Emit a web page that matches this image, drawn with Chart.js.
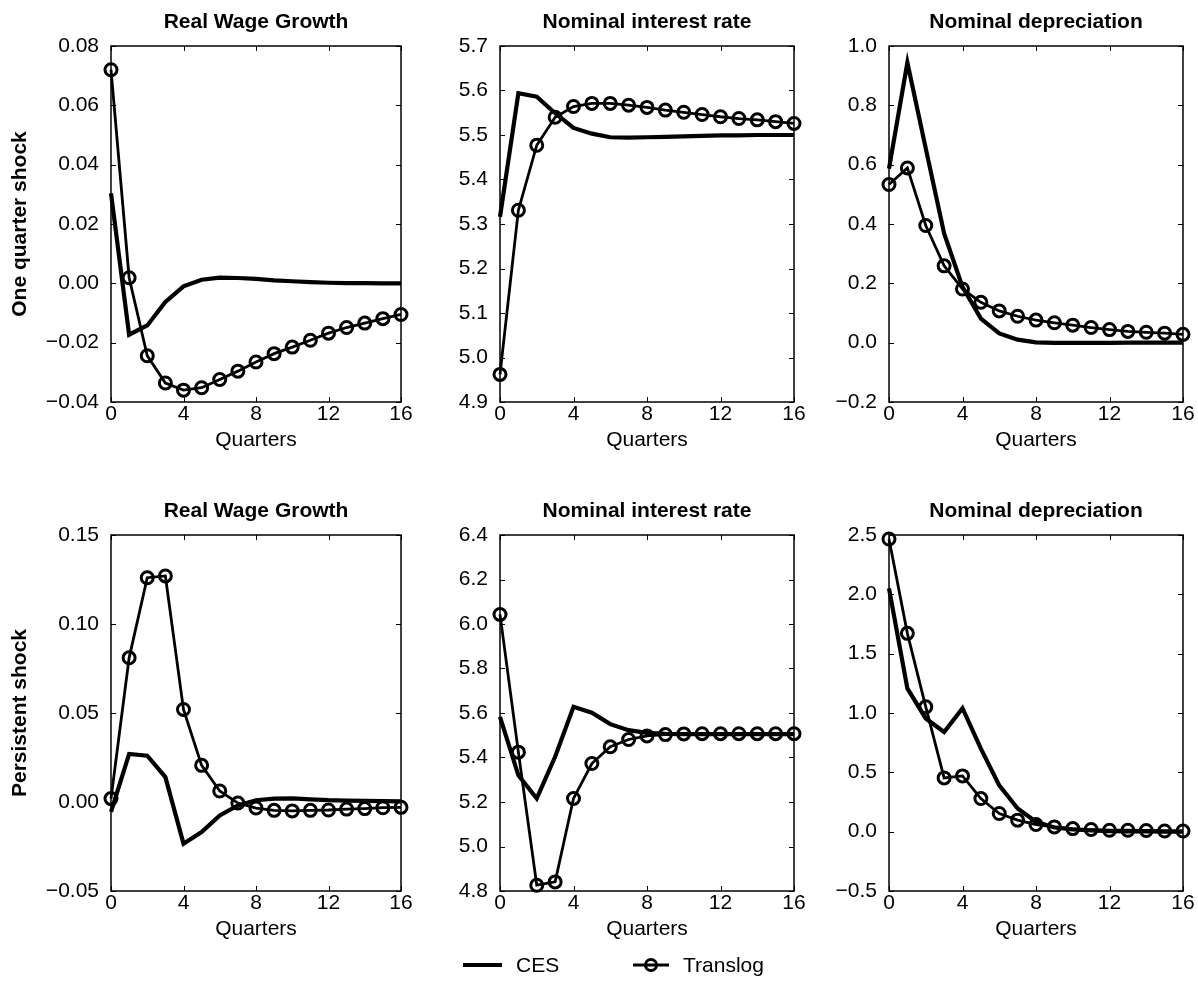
<!DOCTYPE html>
<html>
<head>
<meta charset="utf-8">
<script src="https://cdn.jsdelivr.net/npm/chart.js@4.4.1/dist/chart.umd.min.js"></script>
<style>
body { margin: 0; background: #fff; width: 1198px; height: 993px; position: relative; overflow: hidden; font-family: "Liberation Sans", Arial, sans-serif; }
canvas.panel { position: absolute; }
.leg { position: absolute; top: 953px; height: 24px; line-height: 24px; font-size: 21px; color: #000; }
.leg canvas { position: absolute; left: 0; top: 0; }
.leg span { position: absolute; white-space: nowrap; }
</style>
</head>
<body>
<canvas id="c1" class="panel" width="415" height="465" style="left:0px;top:0px"></canvas>
<canvas id="c2" class="panel" width="388" height="465" style="left:420px;top:0px"></canvas>
<canvas id="c3" class="panel" width="388" height="465" style="left:809px;top:0px"></canvas>
<canvas id="c4" class="panel" width="415" height="465" style="left:0px;top:489px"></canvas>
<canvas id="c5" class="panel" width="388" height="465" style="left:420px;top:489px"></canvas>
<canvas id="c6" class="panel" width="388" height="465" style="left:809px;top:489px"></canvas>
<div id="legCES" class="leg" style="left:463px"></div>
<div id="legTranslog" class="leg" style="left:633px"></div>
<script>
var quarters = [0, 1, 2, 3, 4, 5, 6, 7, 8, 9, 10, 11, 12, 13, 14, 15, 16];
var seriesNames = ['CES', 'Translog'];

// one quarter shock
var wageOneCES = [0.0304, -0.0173, -0.0142, -0.0063, -0.0010, 0.0012, 0.0019, 0.0018, 0.0015, 0.0010, 0.0007, 0.0004, 0.0002, 0.0001, 0.0001, 0.0000, 0.0000];
var wageOneTranslog = [0.0720, 0.0019, -0.0244, -0.0336, -0.0360, -0.0352, -0.0324, -0.0296, -0.0265, -0.0237, -0.0215, -0.0192, -0.0168, -0.0149, -0.0134, -0.0119, -0.0105];
var rateOneCES = [5.316, 5.594, 5.586, 5.549, 5.516, 5.503, 5.495, 5.494, 5.495, 5.496, 5.497, 5.498, 5.499, 5.499, 5.500, 5.500, 5.500];
var rateOneTranslog = [4.962, 5.331, 5.477, 5.540, 5.564, 5.571, 5.571, 5.567, 5.562, 5.556, 5.551, 5.546, 5.541, 5.537, 5.534, 5.530, 5.526];
var deprOneCES = [0.587, 0.944, 0.655, 0.368, 0.188, 0.081, 0.031, 0.010, 0.001, -0.001, -0.001, -0.001, -0.001, 0.000, 0.000, 0.000, 0.000];
var deprOneTranslog = [0.533, 0.589, 0.395, 0.259, 0.181, 0.136, 0.107, 0.089, 0.076, 0.067, 0.059, 0.051, 0.044, 0.038, 0.035, 0.032, 0.028];

// persistent shock
var wagePerCES = [-0.0056, 0.0270, 0.0260, 0.0140, -0.0234, -0.0169, -0.0075, -0.0019, 0.0010, 0.0019, 0.0020, 0.0015, 0.0010, 0.0008, 0.0006, 0.0005, 0.0004];
var wagePerTranslog = [0.0019, 0.0810, 0.1260, 0.1270, 0.0520, 0.0206, 0.0062, -0.0006, -0.0034, -0.0047, -0.0050, -0.0047, -0.0045, -0.0040, -0.0037, -0.0032, -0.0030];
var ratePerCES = [5.583, 5.320, 5.216, 5.403, 5.628, 5.601, 5.550, 5.523, 5.511, 5.506, 5.505, 5.505, 5.505, 5.505, 5.505, 5.505, 5.505];
var ratePerTranslog = [6.043, 5.424, 4.826, 4.841, 5.216, 5.373, 5.448, 5.481, 5.497, 5.503, 5.506, 5.507, 5.507, 5.507, 5.507, 5.507, 5.507];
var deprPerCES = [2.050, 1.207, 0.954, 0.840, 1.040, 0.700, 0.390, 0.195, 0.083, 0.035, 0.018, 0.010, 0.005, 0.003, 0.002, 0.001, 0.000];
var deprPerTranslog = [2.466, 1.671, 1.052, 0.453, 0.470, 0.279, 0.153, 0.097, 0.060, 0.040, 0.026, 0.018, 0.012, 0.012, 0.010, 0.006, 0.006];

var xTicks = [0, 4, 8, 12, 16];

var panels = [
    { id: 'c1', title: 'Real Wage Growth', ylabel: 'One quarter shock', ces: wageOneCES, translog: wageOneTranslog, min: -0.04, max: 0.08, step: 0.02, dec: 2, yw: 111 },
    { id: 'c2', title: 'Nominal interest rate', ylabel: '', ces: rateOneCES, translog: rateOneTranslog, min: 4.9, max: 5.7, step: 0.1, dec: 1, yw: 80 },
    { id: 'c3', title: 'Nominal depreciation', ylabel: '', ces: deprOneCES, translog: deprOneTranslog, min: -0.2, max: 1.0, step: 0.2, dec: 1, yw: 80 },
    { id: 'c4', title: 'Real Wage Growth', ylabel: 'Persistent shock', ces: wagePerCES, translog: wagePerTranslog, min: -0.05, max: 0.15, step: 0.05, dec: 2, yw: 111 },
    { id: 'c5', title: 'Nominal interest rate', ylabel: '', ces: ratePerCES, translog: ratePerTranslog, min: 4.8, max: 6.4, step: 0.2, dec: 1, yw: 80 },
    { id: 'c6', title: 'Nominal depreciation', ylabel: '', ces: deprPerCES, translog: deprPerTranslog, min: -0.5, max: 2.5, step: 0.5, dec: 1, yw: 80 }
];

var FONT = '"Liberation Sans", Arial, sans-serif';

// box round the plot with inward ticks on all four sides
var framePlugin = {
    id: 'frame',
    beforeDatasetsDraw: function(chart) {
        var a = chart.chartArea, ctx = chart.ctx, L = 5;
        var sx = chart.scales.x, sy = chart.scales.y;
        ctx.save();
        ctx.strokeStyle = '#000';
        ctx.lineWidth = 1;
        ctx.beginPath();
        sx.ticks.forEach(function(t) {
            var px = Math.round(sx.getPixelForValue(t.value)) + 0.5;
            ctx.moveTo(px, a.bottom); ctx.lineTo(px, a.bottom - L);
            ctx.moveTo(px, a.top); ctx.lineTo(px, a.top + L);
        });
        sy.ticks.forEach(function(t) {
            var py = Math.round(sy.getPixelForValue(t.value)) + 0.5;
            ctx.moveTo(a.left, py); ctx.lineTo(a.left + L, py);
            ctx.moveTo(a.right, py); ctx.lineTo(a.right - L, py);
        });
        ctx.stroke();
        ctx.lineWidth = 1.5;
        ctx.strokeRect(a.left, a.top, a.right - a.left, a.bottom - a.top);
        ctx.restore();
    }
};

function points(arr) {
    return quarters.map(function(q, i) { return { x: q, y: arr[i] }; });
}

function makeChart(p) {
    var ctx = document.getElementById(p.id).getContext('2d');
    return new Chart(ctx, {
        type: 'line',
        data: {
            datasets: [{
                label: seriesNames[0],
                data: points(p.ces),
                borderColor: '#000',
                borderWidth: 4.2,
                pointRadius: 0,
                tension: 0,
                clip: false
            }, {
                label: seriesNames[1],
                data: points(p.translog),
                borderColor: '#000',
                borderWidth: 2.8,
                pointRadius: 6,
                pointBorderWidth: 3,
                pointBorderColor: '#000',
                pointBackgroundColor: 'rgba(0,0,0,0)',
                tension: 0,
                clip: false
            }]
        },
        options: {
            responsive: false,
            animation: false,
            layout: { padding: { right: 14 } },
            plugins: {
                legend: { display: false },
                tooltip: { enabled: false },
                title: {
                    display: true,
                    text: p.title,
                    fullSize: false,
                    color: '#000',
                    font: { family: FONT, size: 21, weight: 'bold', lineHeight: 1.2 },
                    padding: { top: 9.4, bottom: 11.4 }
                }
            },
            scales: {
                x: {
                    type: 'linear',
                    min: 0,
                    max: 16,
                    grid: { display: false, drawTicks: false },
                    border: { display: false },
                    afterBuildTicks: function(s) { s.ticks = xTicks.map(function(v) { return { value: v }; }); },
                    ticks: { color: '#000', padding: 0, maxRotation: 0, font: { family: FONT, size: 21, lineHeight: 1.2 } },
                    title: { display: true, text: 'Quarters', color: '#000', font: { family: FONT, size: 21, lineHeight: 1.2 }, padding: { top: 0, bottom: 12.4 } },
                    afterFit: function(s) { s.height = 63; }
                },
                y: {
                    min: p.min,
                    max: p.max,
                    grid: { display: false, drawTicks: false },
                    border: { display: false },
                    ticks: {
                        stepSize: p.step,
                        color: '#000',
                        padding: 12,
                        font: { family: FONT, size: 21, lineHeight: 1.2 },
                        callback: function(v) {
                            if (Math.abs(v) < 1e-9) v = 0;
                            return v < 0 ? '\u2212' + Math.abs(v).toFixed(p.dec) : v.toFixed(p.dec);
                        }
                    },
                    title: { display: p.ylabel !== '', text: p.ylabel, color: '#000', font: { family: FONT, size: 21, weight: 'bold', lineHeight: 1.2 }, padding: { top: 8, bottom: 0 } },
                    afterFit: function(s) { s.width = p.yw; }
                }
            }
        },
        plugins: [framePlugin]
    });
}

panels.forEach(makeChart);

// legend under the figure
function legendItem(divId, name, withMarker, sw) {
    var div = document.getElementById(divId);
    var c = document.createElement('canvas');
    c.width = sw; c.height = 24;
    div.appendChild(c);
    var g = c.getContext('2d');
    g.strokeStyle = '#000';
    g.lineWidth = withMarker ? 2.8 : 4.2;
    g.beginPath(); g.moveTo(0, 12); g.lineTo(sw, 12); g.stroke();
    if (withMarker) {
        g.lineWidth = 3;
        g.beginPath(); g.arc(sw / 2, 12, 5.5, 0, Math.PI * 2); g.stroke();
    }
    var s = document.createElement('span');
    s.textContent = name;
    s.style.left = (sw + 14) + 'px';
    div.appendChild(s);
}
legendItem('legCES', seriesNames[0], false, 39);
legendItem('legTranslog', seriesNames[1], true, 36);
</script>
</body>
</html>
